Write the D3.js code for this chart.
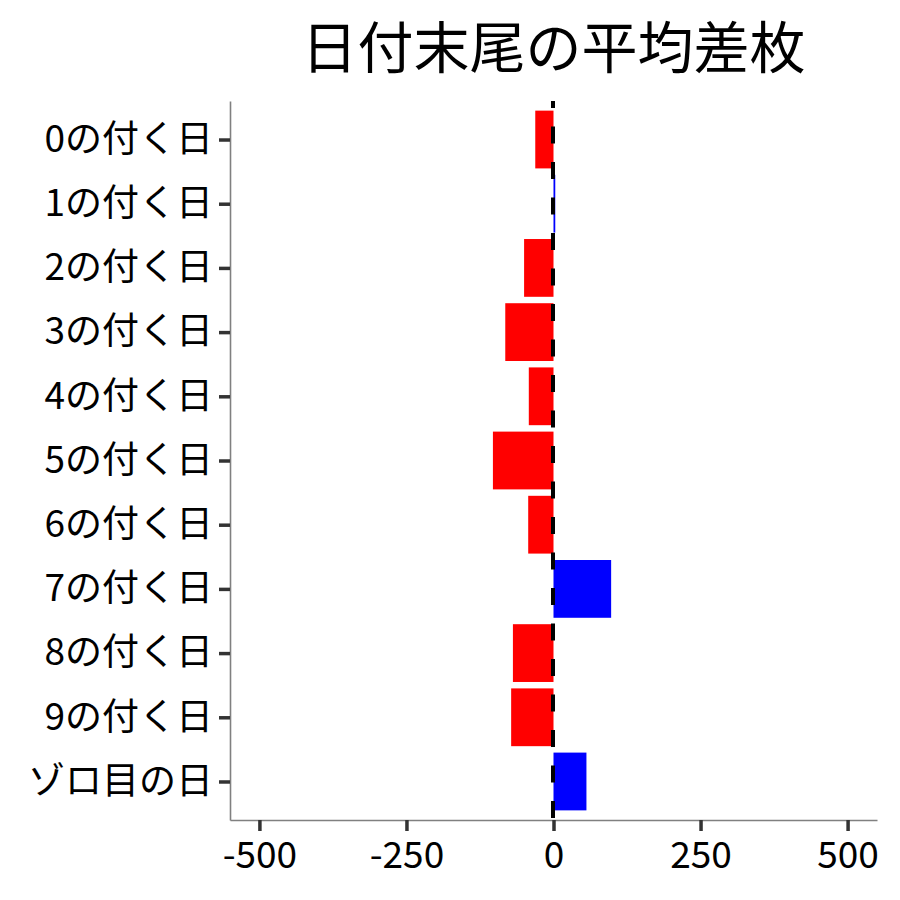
<!DOCTYPE html>
<html>
<head>
<meta charset="utf-8">
<script src="https://cdn.jsdelivr.net/npm/d3@7"></script>
<style>
  body { margin: 0; background: #fff; }
  text { font-family: "Noto Sans CJK JP", "Noto Sans", sans-serif; }
</style>
</head>
<body>
<script>
// 日付末尾ごとの平均差枚 (値は図から読み取り)
var categories = ["0の付く日", "1の付く日", "2の付く日", "3の付く日", "4の付く日",
                  "5の付く日", "6の付く日", "7の付く日", "8の付く日", "9の付く日", "ゾロ目の日"];
var diffValues = [-31, 3, -50, -82, -42, -103, -43, 98, -69, -72, 56];
var xTicks = [-500, -250, 0, 250, 500];
var titleText = "日付末尾の平均差枚";

// size
var w_svg = 900;
var h_svg = 900;
// panel edges (not "top": that name is taken by window.top)
var p_left = 230, p_right = 877, p_top = 101, p_bottom = 820;

var svg = d3.select("body")
  .append("svg")
  .attr("width", w_svg)
  .attr("height", h_svg);

// scales
var xScale = d3.scaleLinear().domain([-550, 550]).range([p_left, p_right]);
var yScale = d3.scalePoint().domain(categories).range([p_top, p_bottom]).padding(0.6);
var barH = yScale.step() * 0.9;

var data = categories.map(function(c, i) { return {cat: c, val: diffValues[i]}; });

// bars
svg.append("g")
  .selectAll("rect")
  .data(data)
  .enter()
  .append("rect")
  .attr("x", function(d) { return xScale(Math.min(0, d.val)); })
  .attr("y", function(d) { return yScale(d.cat) - barH / 2; })
  .attr("width", function(d) { return Math.abs(xScale(d.val) - xScale(0)); })
  .attr("height", barH)
  .attr("fill", function(d) { return d.val < 0 ? "#ff0000" : "#0000ff"; });

// dashed zero line
svg.append("line")
  .attr("x1", xScale(0) - 0.5)
  .attr("x2", xScale(0) - 0.5)
  .attr("y1", p_top)
  .attr("y2", p_bottom)
  .attr("stroke", "#000")
  .attr("stroke-width", 4)
  .attr("stroke-dasharray", "17,18.5")
  .attr("stroke-dashoffset", 10);

// x axis (plain hyphen for negatives, like the original)
var x_axis = d3.axisBottom(xScale)
  .tickValues(xTicks)
  .tickFormat(function(d) { return String(d); })
  .tickSize(11)
  .tickSizeOuter(0)
  .tickPadding(10);
var gx = svg.append("g")
  .attr("transform", "translate(0," + p_bottom + ")")
  .call(x_axis);
gx.select(".domain").attr("stroke", "#808080").attr("stroke-width", 1.6);
gx.selectAll(".tick line").attr("stroke", "#333").attr("stroke-width", 3.5);
gx.selectAll(".tick text")
  .attr("fill", "#000")
  .attr("font-size", 37)
  .attr("font-family", "Noto Sans CJK JP")
  .attr("dy", null)
  .attr("y", 48);

// y axis
var y_axis = d3.axisLeft(yScale).tickSize(11).tickSizeOuter(0).tickPadding(6);
var gy = svg.append("g")
  .attr("transform", "translate(" + p_left + ",0)")
  .call(y_axis);
gy.select(".domain").attr("stroke", "#808080").attr("stroke-width", 1.6);
gy.selectAll(".tick line").attr("stroke", "#333").attr("stroke-width", 3.5);
gy.selectAll(".tick text")
  .attr("fill", "#000")
  .attr("font-size", 37)
  .attr("font-family", "Noto Sans CJK JP");

// title
svg.append("text")
  .attr("x", (p_left + p_right) / 2)
  .attr("y", 68)
  .attr("text-anchor", "middle")
  .attr("font-size", 56)
  .attr("fill", "#000")
  .text(titleText);
</script>
</body>
</html>
